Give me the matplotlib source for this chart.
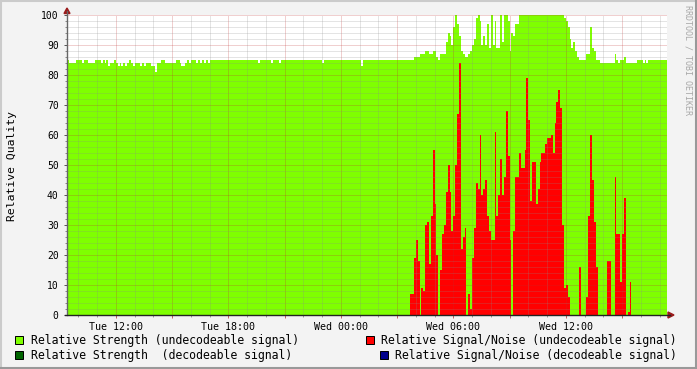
import numpy as np
import matplotlib
matplotlib.use("Agg")
import matplotlib.pyplot as plt
from matplotlib.patches import Rectangle, Polygon
from matplotlib.lines import Line2D

# ---------------- data ----------------
start_clock_h = 9.4          # first sample: Tue 09:24
step_h = 0.1                 # 6-minute samples
x_tick_labels = ["Tue 12:00", "Tue 18:00", "Wed 00:00", "Wed 06:00", "Wed 12:00"]
y_tick_values = [0, 10, 20, 30, 40, 50, 60, 70, 80, 90, 100]
y_label = "Relative Quality"
watermark = "RRDTOOL / TOBI OETIKER"

legend_labels = [
    "Relative Strength (undecodeable signal)",
    "Relative Signal/Noise (undecodeable signal)",
    "Relative Strength  (decodeable signal)",
    "Relative Signal/Noise (decodeable signal)",
]
legend_colors = ["#7FFF00", "#FF0000", "#006400", "#00008B"]

strength_undecodeable = [
    85, 84, 84, 84, 84, 85, 85, 85, 84, 85, 85, 84, 84, 84, 84, 85, 85, 85, 84, 85,
    84, 85, 83, 84, 84, 85, 84, 83, 84, 83, 84, 83, 84, 85, 84, 83, 84, 84, 84, 83,
    84, 83, 84, 84, 84, 83, 83, 81, 84, 84, 85, 85, 84, 84, 84, 84, 84, 84, 85, 85,
    84, 83, 83, 84, 85, 84, 85, 85, 85, 84, 85, 84, 85, 84, 85, 84, 85, 85, 85, 85,
    85, 85, 85, 85, 85, 85, 85, 85, 85, 85, 85, 85, 85, 85, 85, 85, 85, 85, 85, 85,
    85, 85, 84, 85, 85, 85, 85, 85, 85, 84, 85, 85, 85, 84, 85, 85, 85, 85, 85, 85,
    85, 85, 85, 85, 85, 85, 85, 85, 85, 85, 85, 85, 85, 85, 85, 85, 84, 85, 85, 85,
    85, 85, 85, 85, 85, 85, 85, 85, 85, 85, 85, 85, 85, 85, 85, 85, 85, 83, 85, 85,
    85, 85, 85, 85, 85, 85, 85, 85, 85, 85, 85, 85, 85, 85, 85, 85, 85, 85, 85, 85,
    85, 85, 85, 85, 85, 86, 86, 86, 87, 87, 87, 88, 88, 87, 87, 88, 88, 86, 85, 87,
    87, 87, 91, 94, 93, 90, 96, 100, 97, 93, 88, 87, 86, 86, 87, 88, 90, 92, 99, 100,
    98, 90, 93, 90, 97, 89, 100, 90, 98, 89, 89, 100, 91, 100, 100, 98, 88, 94, 93, 97,
    97, 100, 100, 100, 100, 100, 100, 100, 100, 100, 100, 100, 100, 100, 100, 100, 100, 100, 100, 100,
    100, 100, 100, 100, 100, 99, 98, 96, 92, 89, 91, 88, 86, 85, 85, 85, 85, 87, 87, 96,
    89, 88, 85, 85, 84, 84, 84, 84, 84, 84, 84, 84, 87, 85, 84, 85, 85, 86, 84, 84,
    84, 84, 84, 84, 85, 85, 85, 84, 85, 84, 85, 85, 85, 85, 85, 85, 85, 85, 85, 85,
]

snr_undecodeable = [
    0, 0, 0, 0, 0, 0, 0, 0, 0, 0, 0, 0, 0, 0, 0, 0, 0, 0, 0, 0,
    0, 0, 0, 0, 0, 0, 0, 0, 0, 0, 0, 0, 0, 0, 0, 0, 0, 0, 0, 0,
    0, 0, 0, 0, 0, 0, 0, 0, 0, 0, 0, 0, 0, 0, 0, 0, 0, 0, 0, 0,
    0, 0, 0, 0, 0, 0, 0, 0, 0, 0, 0, 0, 0, 0, 0, 0, 0, 0, 0, 0,
    0, 0, 0, 0, 0, 0, 0, 0, 0, 0, 0, 0, 0, 0, 0, 0, 0, 0, 0, 0,
    0, 0, 0, 0, 0, 0, 0, 0, 0, 0, 0, 0, 0, 0, 0, 0, 0, 0, 0, 0,
    0, 0, 0, 0, 0, 0, 0, 0, 0, 0, 0, 0, 0, 0, 0, 0, 0, 0, 0, 0,
    0, 0, 0, 0, 0, 0, 0, 0, 0, 0, 0, 0, 0, 0, 0, 0, 0, 0, 0, 0,
    0, 0, 0, 0, 0, 0, 0, 0, 0, 0, 0, 0, 0, 0, 0, 0, 0, 0, 0, 0,
    0, 0, 0, 7, 7, 19, 25, 18, 0, 9, 8, 30, 31, 17, 33, 55, 37, 20, 0, 15,
    27, 30, 41, 50, 41, 28, 33, 50, 67, 84, 22, 26, 29, 0, 7, 2, 19, 29, 44, 42,
    60, 40, 42, 45, 33, 28, 25, 25, 61, 33, 40, 52, 40, 46, 68, 53, 25, 0, 28, 46,
    46, 54, 49, 49, 55, 79, 65, 38, 51, 51, 37, 42, 51, 54, 54, 57, 59, 59, 60, 54,
    64, 71, 75, 69, 30, 9, 10, 6, 0, 0, 0, 0, 0, 16, 0, 0, 0, 6, 33, 60,
    45, 31, 16, 0, 0, 0, 0, 0, 18, 18, 0, 0, 46, 27, 27, 11, 27, 39, 0, 1,
    11, 0, 0, 0, 0, 0, 0, 0, 0, 0, 0, 0, 0, 0, 0, 0, 0, 0, 0, 0,
]

# ---------------- layout ----------------
W, H = 697, 369
L, R, T, B = 67, 667, 15, 315
MONO = "DejaVu Sans Mono"


def fx(px):
    return px / W


def fy(py):
    return 1 - py / H


fig = plt.figure(figsize=(W / 100, H / 100), dpi=100)
fig.patch.set_facecolor("#F3F3F3")
ax = fig.add_axes([fx(L), fy(B), (R - L) / W, (B - T) / H])
ax.set_facecolor("white")

n = len(strength_undecodeable)
edges = np.arange(n + 1) * step_h
span = n * step_h

ax.stairs(strength_undecodeable, edges, baseline=0, fill=True,
          color=legend_colors[0], lw=0, zorder=1)
ax.stairs(snr_undecodeable, edges, baseline=0, fill=True,
          color=legend_colors[1], lw=0, zorder=2)

ax.set_xlim(0, span)
ax.set_ylim(0, 100)
for s in ax.spines.values():
    s.set_visible(False)

# grid (drawn over the data, dotted)
minor_c, major_c = "#8C8C8C", "#C03030"
dots = (0, (1, 1))
grid_kw = dict(lw=0.72, ls=dots, zorder=3, snap=True)
first_hour = np.ceil(start_clock_h) - start_clock_h
hours = np.arange(first_hour, span, 1.0)
major_x, minor_x = [], []
for h in hours:
    clock = int(round(start_clock_h + h)) % 24
    if clock % 3 == 0:
        major_x.append(h)
        ax.axvline(h, color=major_c, alpha=0.45, **grid_kw)
    else:
        minor_x.append(h)
        ax.axvline(h, color=minor_c, alpha=0.45, **grid_kw)
for v in range(2, 101, 2):
    if v % 10 == 0:
        ax.axhline(v, color=major_c, alpha=0.45, **grid_kw)
    else:
        ax.axhline(v, color=minor_c, alpha=0.45, **grid_kw)

# ticks
label_positions = [h for h in major_x
                   if int(round(start_clock_h + h)) % 24 % 6 == 0]
ax.set_xticks(major_x)
labs = []
k = 0
for h in major_x:
    if h in label_positions and k < len(x_tick_labels):
        labs.append(x_tick_labels[k])
        k += 1
    else:
        labs.append("")
ax.set_xticklabels(labs, family=MONO, fontsize=7.2)
ax.set_xticks(minor_x, minor=True)
ax.set_yticks(y_tick_values)
ax.set_yticklabels([str(v) for v in y_tick_values], family=MONO, fontsize=7)
ax.set_yticks([v for v in range(0, 101, 2) if v % 10], minor=True)
ax.tick_params(axis="x", which="major", length=2.5, width=0.7, color="#C06060",
               pad=2.5, direction="out")
ax.tick_params(axis="x", which="minor", length=1.5, width=0.7, color="#999999",
               direction="out")
ax.tick_params(axis="y", which="major", length=2.5, width=0.7, color="#555555",
               pad=3.5, direction="out")
ax.tick_params(axis="y", which="minor", length=1.5, width=0.7, color="#888888",
               direction="out")

# axes lines + arrows
fig.add_artist(Line2D([fx(L), fx(L)], [fy(B), fy(11)], color="#666666", lw=1.0))
fig.add_artist(Line2D([fx(L - 2), fx(670)], [fy(B), fy(B)], color="#222222", lw=1.0))
fig.add_artist(Polygon([[fx(L - 3), fy(13.5)], [fx(L + 3), fy(13.5)], [fx(L), fy(8)]],
                       closed=True, color="#9A1A1A"))
fig.add_artist(Polygon([[fx(668), fy(B - 3)], [fx(668), fy(B + 3)], [fx(674), fy(B)]],
                       closed=True, color="#9A1A1A"))

# y label & watermark
fig.text(fx(12), fy(166), y_label, rotation=90, ha="center", va="center",
         family=MONO, fontsize=8.2, color="black")
fig.text(fx(688), fy(60), watermark, rotation=270, ha="center", va="center",
         family=MONO, fontsize=6, color="#A8A8A8")

# legend
legend_pos = [(15, 340, 30.5), (366, 340, 381), (15, 355, 30.5), (380, 355, 395)]
for (sx, cy, tx), lab, col in zip(legend_pos, legend_labels, legend_colors):
    fig.add_artist(Rectangle((fx(sx), fy(cy + 4)), 8 / W, 8 / H, facecolor=col,
                             edgecolor="black", lw=0.72))
    fig.text(fx(tx), fy(cy + 0.5), lab, ha="left", va="center", family=MONO,
             fontsize=8.3, color="black")

# frame
fig.add_artist(Line2D([0, 1], [fy(0.5), fy(0.5)], color="#CBCBCB", lw=1.5))
fig.add_artist(Line2D([fx(0.5), fx(0.5)], [0, 1], color="#CBCBCB", lw=1.5))
fig.add_artist(Line2D([fx(696), fx(696)], [0, 1], color="#999999", lw=1.5))
fig.add_artist(Line2D([0, 1], [fy(368), fy(368)], color="#999999", lw=1.5))

fig.savefig("out.png", dpi=100, facecolor=fig.get_facecolor())
